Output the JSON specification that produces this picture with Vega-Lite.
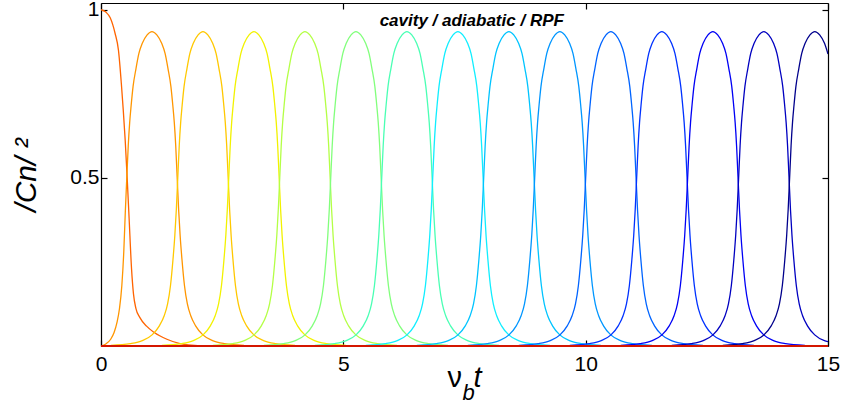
{
"$schema":"https://vega.github.io/schema/vega-lite/v6.json",
"width":727,"height":343,
"autosize":{"type":"none"},
"padding":{"left":101,"top":3,"right":17,"bottom":59},
"background":"white",
"config":{"view":{"stroke":null},"axis":{"domainColor":"black","tickColor":"black","labelColor":"black","labelFont":"Liberation Sans","labelFontSize":21,"tickSize":-6,"domainWidth":1.2,"tickWidth":1.2,"grid":false,"labelFlush":false,"titleColor":"black"}},
"resolve":{"axis":{"x":"independent","y":"independent"}},
"layer":[
{"data":{"values":[
{"c":0,"t":0,"v":1.0},{"c":0,"t":0.1,"v":0.993},{"c":0,"t":0.19,"v":0.976},{"c":0,"t":0.29,"v":0.93},{"c":0,"t":0.36,"v":0.88},{"c":0,"t":0.42,"v":0.78},{"c":0,"t":0.46,"v":0.70},{"c":0,"t":0.5,"v":0.61},{"c":0,"t":0.54,"v":0.50},{"c":0,"t":0.58,"v":0.38},{"c":0,"t":0.63,"v":0.23},{"c":0,"t":0.67,"v":0.155},{"c":0,"t":0.72,"v":0.112},{"c":0,"t":0.8,"v":0.085},{"c":0,"t":0.94,"v":0.059},{"c":0,"t":1.1,"v":0.04},{"c":0,"t":1.36,"v":0.02},{"c":0,"t":1.63,"v":0.007},{"c":0,"t":2.0,"v":0.001},{"c":0,"t":2.5,"v":0},
{"c":1,"t":0,"v":0},{"c":1,"t":0.1,"v":0.006},{"c":1,"t":0.2,"v":0.02},{"c":1,"t":0.27,"v":0.04},{"c":1,"t":0.33,"v":0.07},{"c":1,"t":0.38,"v":0.11},{"c":1,"t":0.43,"v":0.18},{"c":1,"t":0.47,"v":0.28},{"c":1,"t":0.502,"v":0.40},{"c":1,"t":0.532,"v":0.5},{"c":1,"t":0.562,"v":0.595},{"c":1,"t":0.592,"v":0.665},{"c":1,"t":0.622,"v":0.715},{"c":1,"t":0.662,"v":0.772},{"c":1,"t":0.722,"v":0.825},{"c":1,"t":0.782,"v":0.87},{"c":1,"t":0.852,"v":0.9},{"c":1,"t":0.952,"v":0.925},{"c":1,"t":1.052,"v":0.935},{"c":1,"t":1.152,"v":0.925},{"c":1,"t":1.252,"v":0.9},{"c":1,"t":1.322,"v":0.87},{"c":1,"t":1.382,"v":0.825},{"c":1,"t":1.442,"v":0.772},{"c":1,"t":1.482,"v":0.715},{"c":1,"t":1.512,"v":0.665},{"c":1,"t":1.542,"v":0.595},{"c":1,"t":1.572,"v":0.5},{"c":1,"t":1.602,"v":0.405},{"c":1,"t":1.632,"v":0.33},{"c":1,"t":1.672,"v":0.255},{"c":1,"t":1.722,"v":0.18},{"c":1,"t":1.782,"v":0.125},{"c":1,"t":1.852,"v":0.09},{"c":1,"t":1.952,"v":0.06},{"c":1,"t":2.102,"v":0.033},{"c":1,"t":2.302,"v":0.016},{"c":1,"t":2.552,"v":0.007},{"c":1,"t":2.952,"v":0.002},
{"c":2,"t":0.204,"v":0.002},{"c":2,"t":0.604,"v":0.007},{"c":2,"t":0.854,"v":0.016},{"c":2,"t":1.054,"v":0.033},{"c":2,"t":1.204,"v":0.06},{"c":2,"t":1.304,"v":0.09},{"c":2,"t":1.374,"v":0.125},{"c":2,"t":1.434,"v":0.18},{"c":2,"t":1.484,"v":0.255},{"c":2,"t":1.524,"v":0.33},{"c":2,"t":1.554,"v":0.405},{"c":2,"t":1.584,"v":0.5},{"c":2,"t":1.614,"v":0.595},{"c":2,"t":1.644,"v":0.665},{"c":2,"t":1.674,"v":0.715},{"c":2,"t":1.714,"v":0.772},{"c":2,"t":1.774,"v":0.825},{"c":2,"t":1.834,"v":0.87},{"c":2,"t":1.904,"v":0.9},{"c":2,"t":2.004,"v":0.925},{"c":2,"t":2.104,"v":0.935},{"c":2,"t":2.204,"v":0.925},{"c":2,"t":2.304,"v":0.9},{"c":2,"t":2.374,"v":0.87},{"c":2,"t":2.434,"v":0.825},{"c":2,"t":2.494,"v":0.772},{"c":2,"t":2.534,"v":0.715},{"c":2,"t":2.564,"v":0.665},{"c":2,"t":2.594,"v":0.595},{"c":2,"t":2.624,"v":0.5},{"c":2,"t":2.654,"v":0.405},{"c":2,"t":2.684,"v":0.33},{"c":2,"t":2.724,"v":0.255},{"c":2,"t":2.774,"v":0.18},{"c":2,"t":2.834,"v":0.125},{"c":2,"t":2.904,"v":0.09},{"c":2,"t":3.004,"v":0.06},{"c":2,"t":3.154,"v":0.033},{"c":2,"t":3.354,"v":0.016},{"c":2,"t":3.604,"v":0.007},{"c":2,"t":4.004,"v":0.002},
{"c":3,"t":1.256,"v":0.002},{"c":3,"t":1.656,"v":0.007},{"c":3,"t":1.906,"v":0.016},{"c":3,"t":2.106,"v":0.033},{"c":3,"t":2.256,"v":0.06},{"c":3,"t":2.356,"v":0.09},{"c":3,"t":2.426,"v":0.125},{"c":3,"t":2.486,"v":0.18},{"c":3,"t":2.536,"v":0.255},{"c":3,"t":2.576,"v":0.33},{"c":3,"t":2.606,"v":0.405},{"c":3,"t":2.636,"v":0.5},{"c":3,"t":2.666,"v":0.595},{"c":3,"t":2.696,"v":0.665},{"c":3,"t":2.726,"v":0.715},{"c":3,"t":2.766,"v":0.772},{"c":3,"t":2.826,"v":0.825},{"c":3,"t":2.886,"v":0.87},{"c":3,"t":2.956,"v":0.9},{"c":3,"t":3.056,"v":0.925},{"c":3,"t":3.156,"v":0.935},{"c":3,"t":3.256,"v":0.925},{"c":3,"t":3.356,"v":0.9},{"c":3,"t":3.426,"v":0.87},{"c":3,"t":3.486,"v":0.825},{"c":3,"t":3.546,"v":0.772},{"c":3,"t":3.586,"v":0.715},{"c":3,"t":3.616,"v":0.665},{"c":3,"t":3.646,"v":0.595},{"c":3,"t":3.676,"v":0.5},{"c":3,"t":3.706,"v":0.405},{"c":3,"t":3.736,"v":0.33},{"c":3,"t":3.776,"v":0.255},{"c":3,"t":3.826,"v":0.18},{"c":3,"t":3.886,"v":0.125},{"c":3,"t":3.956,"v":0.09},{"c":3,"t":4.056,"v":0.06},{"c":3,"t":4.206,"v":0.033},{"c":3,"t":4.406,"v":0.016},{"c":3,"t":4.656,"v":0.007},{"c":3,"t":5.056,"v":0.002},
{"c":4,"t":2.308,"v":0.002},{"c":4,"t":2.708,"v":0.007},{"c":4,"t":2.958,"v":0.016},{"c":4,"t":3.158,"v":0.033},{"c":4,"t":3.308,"v":0.06},{"c":4,"t":3.408,"v":0.09},{"c":4,"t":3.478,"v":0.125},{"c":4,"t":3.538,"v":0.18},{"c":4,"t":3.588,"v":0.255},{"c":4,"t":3.628,"v":0.33},{"c":4,"t":3.658,"v":0.405},{"c":4,"t":3.688,"v":0.5},{"c":4,"t":3.718,"v":0.595},{"c":4,"t":3.748,"v":0.665},{"c":4,"t":3.778,"v":0.715},{"c":4,"t":3.818,"v":0.772},{"c":4,"t":3.878,"v":0.825},{"c":4,"t":3.938,"v":0.87},{"c":4,"t":4.008,"v":0.9},{"c":4,"t":4.108,"v":0.925},{"c":4,"t":4.208,"v":0.935},{"c":4,"t":4.308,"v":0.925},{"c":4,"t":4.408,"v":0.9},{"c":4,"t":4.478,"v":0.87},{"c":4,"t":4.538,"v":0.825},{"c":4,"t":4.598,"v":0.772},{"c":4,"t":4.638,"v":0.715},{"c":4,"t":4.668,"v":0.665},{"c":4,"t":4.698,"v":0.595},{"c":4,"t":4.728,"v":0.5},{"c":4,"t":4.758,"v":0.405},{"c":4,"t":4.788,"v":0.33},{"c":4,"t":4.828,"v":0.255},{"c":4,"t":4.878,"v":0.18},{"c":4,"t":4.938,"v":0.125},{"c":4,"t":5.008,"v":0.09},{"c":4,"t":5.108,"v":0.06},{"c":4,"t":5.258,"v":0.033},{"c":4,"t":5.458,"v":0.016},{"c":4,"t":5.708,"v":0.007},{"c":4,"t":6.108,"v":0.002},
{"c":5,"t":3.36,"v":0.002},{"c":5,"t":3.76,"v":0.007},{"c":5,"t":4.01,"v":0.016},{"c":5,"t":4.21,"v":0.033},{"c":5,"t":4.36,"v":0.06},{"c":5,"t":4.46,"v":0.09},{"c":5,"t":4.53,"v":0.125},{"c":5,"t":4.59,"v":0.18},{"c":5,"t":4.64,"v":0.255},{"c":5,"t":4.68,"v":0.33},{"c":5,"t":4.71,"v":0.405},{"c":5,"t":4.74,"v":0.5},{"c":5,"t":4.77,"v":0.595},{"c":5,"t":4.8,"v":0.665},{"c":5,"t":4.83,"v":0.715},{"c":5,"t":4.87,"v":0.772},{"c":5,"t":4.93,"v":0.825},{"c":5,"t":4.99,"v":0.87},{"c":5,"t":5.06,"v":0.9},{"c":5,"t":5.16,"v":0.925},{"c":5,"t":5.26,"v":0.935},{"c":5,"t":5.36,"v":0.925},{"c":5,"t":5.46,"v":0.9},{"c":5,"t":5.53,"v":0.87},{"c":5,"t":5.59,"v":0.825},{"c":5,"t":5.65,"v":0.772},{"c":5,"t":5.69,"v":0.715},{"c":5,"t":5.72,"v":0.665},{"c":5,"t":5.75,"v":0.595},{"c":5,"t":5.78,"v":0.5},{"c":5,"t":5.81,"v":0.405},{"c":5,"t":5.84,"v":0.33},{"c":5,"t":5.88,"v":0.255},{"c":5,"t":5.93,"v":0.18},{"c":5,"t":5.99,"v":0.125},{"c":5,"t":6.06,"v":0.09},{"c":5,"t":6.16,"v":0.06},{"c":5,"t":6.31,"v":0.033},{"c":5,"t":6.51,"v":0.016},{"c":5,"t":6.76,"v":0.007},{"c":5,"t":7.16,"v":0.002},
{"c":6,"t":4.412,"v":0.002},{"c":6,"t":4.812,"v":0.007},{"c":6,"t":5.062,"v":0.016},{"c":6,"t":5.262,"v":0.033},{"c":6,"t":5.412,"v":0.06},{"c":6,"t":5.512,"v":0.09},{"c":6,"t":5.582,"v":0.125},{"c":6,"t":5.642,"v":0.18},{"c":6,"t":5.692,"v":0.255},{"c":6,"t":5.732,"v":0.33},{"c":6,"t":5.762,"v":0.405},{"c":6,"t":5.792,"v":0.5},{"c":6,"t":5.822,"v":0.595},{"c":6,"t":5.852,"v":0.665},{"c":6,"t":5.882,"v":0.715},{"c":6,"t":5.922,"v":0.772},{"c":6,"t":5.982,"v":0.825},{"c":6,"t":6.042,"v":0.87},{"c":6,"t":6.112,"v":0.9},{"c":6,"t":6.212,"v":0.925},{"c":6,"t":6.312,"v":0.935},{"c":6,"t":6.412,"v":0.925},{"c":6,"t":6.512,"v":0.9},{"c":6,"t":6.582,"v":0.87},{"c":6,"t":6.642,"v":0.825},{"c":6,"t":6.702,"v":0.772},{"c":6,"t":6.742,"v":0.715},{"c":6,"t":6.772,"v":0.665},{"c":6,"t":6.802,"v":0.595},{"c":6,"t":6.832,"v":0.5},{"c":6,"t":6.862,"v":0.405},{"c":6,"t":6.892,"v":0.33},{"c":6,"t":6.932,"v":0.255},{"c":6,"t":6.982,"v":0.18},{"c":6,"t":7.042,"v":0.125},{"c":6,"t":7.112,"v":0.09},{"c":6,"t":7.212,"v":0.06},{"c":6,"t":7.362,"v":0.033},{"c":6,"t":7.562,"v":0.016},{"c":6,"t":7.812,"v":0.007},{"c":6,"t":8.212,"v":0.002},
{"c":7,"t":5.464,"v":0.002},{"c":7,"t":5.864,"v":0.007},{"c":7,"t":6.114,"v":0.016},{"c":7,"t":6.314,"v":0.033},{"c":7,"t":6.464,"v":0.06},{"c":7,"t":6.564,"v":0.09},{"c":7,"t":6.634,"v":0.125},{"c":7,"t":6.694,"v":0.18},{"c":7,"t":6.744,"v":0.255},{"c":7,"t":6.784,"v":0.33},{"c":7,"t":6.814,"v":0.405},{"c":7,"t":6.844,"v":0.5},{"c":7,"t":6.874,"v":0.595},{"c":7,"t":6.904,"v":0.665},{"c":7,"t":6.934,"v":0.715},{"c":7,"t":6.974,"v":0.772},{"c":7,"t":7.034,"v":0.825},{"c":7,"t":7.094,"v":0.87},{"c":7,"t":7.164,"v":0.9},{"c":7,"t":7.264,"v":0.925},{"c":7,"t":7.364,"v":0.935},{"c":7,"t":7.464,"v":0.925},{"c":7,"t":7.564,"v":0.9},{"c":7,"t":7.634,"v":0.87},{"c":7,"t":7.694,"v":0.825},{"c":7,"t":7.754,"v":0.772},{"c":7,"t":7.794,"v":0.715},{"c":7,"t":7.824,"v":0.665},{"c":7,"t":7.854,"v":0.595},{"c":7,"t":7.884,"v":0.5},{"c":7,"t":7.914,"v":0.405},{"c":7,"t":7.944,"v":0.33},{"c":7,"t":7.984,"v":0.255},{"c":7,"t":8.034,"v":0.18},{"c":7,"t":8.094,"v":0.125},{"c":7,"t":8.164,"v":0.09},{"c":7,"t":8.264,"v":0.06},{"c":7,"t":8.414,"v":0.033},{"c":7,"t":8.614,"v":0.016},{"c":7,"t":8.864,"v":0.007},{"c":7,"t":9.264,"v":0.002},
{"c":8,"t":6.516,"v":0.002},{"c":8,"t":6.916,"v":0.007},{"c":8,"t":7.166,"v":0.016},{"c":8,"t":7.366,"v":0.033},{"c":8,"t":7.516,"v":0.06},{"c":8,"t":7.616,"v":0.09},{"c":8,"t":7.686,"v":0.125},{"c":8,"t":7.746,"v":0.18},{"c":8,"t":7.796,"v":0.255},{"c":8,"t":7.836,"v":0.33},{"c":8,"t":7.866,"v":0.405},{"c":8,"t":7.896,"v":0.5},{"c":8,"t":7.926,"v":0.595},{"c":8,"t":7.956,"v":0.665},{"c":8,"t":7.986,"v":0.715},{"c":8,"t":8.026,"v":0.772},{"c":8,"t":8.086,"v":0.825},{"c":8,"t":8.146,"v":0.87},{"c":8,"t":8.216,"v":0.9},{"c":8,"t":8.316,"v":0.925},{"c":8,"t":8.416,"v":0.935},{"c":8,"t":8.516,"v":0.925},{"c":8,"t":8.616,"v":0.9},{"c":8,"t":8.686,"v":0.87},{"c":8,"t":8.746,"v":0.825},{"c":8,"t":8.806,"v":0.772},{"c":8,"t":8.846,"v":0.715},{"c":8,"t":8.876,"v":0.665},{"c":8,"t":8.906,"v":0.595},{"c":8,"t":8.936,"v":0.5},{"c":8,"t":8.966,"v":0.405},{"c":8,"t":8.996,"v":0.33},{"c":8,"t":9.036,"v":0.255},{"c":8,"t":9.086,"v":0.18},{"c":8,"t":9.146,"v":0.125},{"c":8,"t":9.216,"v":0.09},{"c":8,"t":9.316,"v":0.06},{"c":8,"t":9.466,"v":0.033},{"c":8,"t":9.666,"v":0.016},{"c":8,"t":9.916,"v":0.007},{"c":8,"t":10.316,"v":0.002},
{"c":9,"t":7.568,"v":0.002},{"c":9,"t":7.968,"v":0.007},{"c":9,"t":8.218,"v":0.016},{"c":9,"t":8.418,"v":0.033},{"c":9,"t":8.568,"v":0.06},{"c":9,"t":8.668,"v":0.09},{"c":9,"t":8.738,"v":0.125},{"c":9,"t":8.798,"v":0.18},{"c":9,"t":8.848,"v":0.255},{"c":9,"t":8.888,"v":0.33},{"c":9,"t":8.918,"v":0.405},{"c":9,"t":8.948,"v":0.5},{"c":9,"t":8.978,"v":0.595},{"c":9,"t":9.008,"v":0.665},{"c":9,"t":9.038,"v":0.715},{"c":9,"t":9.078,"v":0.772},{"c":9,"t":9.138,"v":0.825},{"c":9,"t":9.198,"v":0.87},{"c":9,"t":9.268,"v":0.9},{"c":9,"t":9.368,"v":0.925},{"c":9,"t":9.468,"v":0.935},{"c":9,"t":9.568,"v":0.925},{"c":9,"t":9.668,"v":0.9},{"c":9,"t":9.738,"v":0.87},{"c":9,"t":9.798,"v":0.825},{"c":9,"t":9.858,"v":0.772},{"c":9,"t":9.898,"v":0.715},{"c":9,"t":9.928,"v":0.665},{"c":9,"t":9.958,"v":0.595},{"c":9,"t":9.988,"v":0.5},{"c":9,"t":10.018,"v":0.405},{"c":9,"t":10.048,"v":0.33},{"c":9,"t":10.088,"v":0.255},{"c":9,"t":10.138,"v":0.18},{"c":9,"t":10.198,"v":0.125},{"c":9,"t":10.268,"v":0.09},{"c":9,"t":10.368,"v":0.06},{"c":9,"t":10.518,"v":0.033},{"c":9,"t":10.718,"v":0.016},{"c":9,"t":10.968,"v":0.007},{"c":9,"t":11.368,"v":0.002},
{"c":10,"t":8.62,"v":0.002},{"c":10,"t":9.02,"v":0.007},{"c":10,"t":9.27,"v":0.016},{"c":10,"t":9.47,"v":0.033},{"c":10,"t":9.62,"v":0.06},{"c":10,"t":9.72,"v":0.09},{"c":10,"t":9.79,"v":0.125},{"c":10,"t":9.85,"v":0.18},{"c":10,"t":9.9,"v":0.255},{"c":10,"t":9.94,"v":0.33},{"c":10,"t":9.97,"v":0.405},{"c":10,"t":10.0,"v":0.5},{"c":10,"t":10.03,"v":0.595},{"c":10,"t":10.06,"v":0.665},{"c":10,"t":10.09,"v":0.715},{"c":10,"t":10.13,"v":0.772},{"c":10,"t":10.19,"v":0.825},{"c":10,"t":10.25,"v":0.87},{"c":10,"t":10.32,"v":0.9},{"c":10,"t":10.42,"v":0.925},{"c":10,"t":10.52,"v":0.935},{"c":10,"t":10.62,"v":0.925},{"c":10,"t":10.72,"v":0.9},{"c":10,"t":10.79,"v":0.87},{"c":10,"t":10.85,"v":0.825},{"c":10,"t":10.91,"v":0.772},{"c":10,"t":10.95,"v":0.715},{"c":10,"t":10.98,"v":0.665},{"c":10,"t":11.01,"v":0.595},{"c":10,"t":11.04,"v":0.5},{"c":10,"t":11.07,"v":0.405},{"c":10,"t":11.1,"v":0.33},{"c":10,"t":11.14,"v":0.255},{"c":10,"t":11.19,"v":0.18},{"c":10,"t":11.25,"v":0.125},{"c":10,"t":11.32,"v":0.09},{"c":10,"t":11.42,"v":0.06},{"c":10,"t":11.57,"v":0.033},{"c":10,"t":11.77,"v":0.016},{"c":10,"t":12.02,"v":0.007},{"c":10,"t":12.42,"v":0.002},
{"c":11,"t":9.672,"v":0.002},{"c":11,"t":10.072,"v":0.007},{"c":11,"t":10.322,"v":0.016},{"c":11,"t":10.522,"v":0.033},{"c":11,"t":10.672,"v":0.06},{"c":11,"t":10.772,"v":0.09},{"c":11,"t":10.842,"v":0.125},{"c":11,"t":10.902,"v":0.18},{"c":11,"t":10.952,"v":0.255},{"c":11,"t":10.992,"v":0.33},{"c":11,"t":11.022,"v":0.405},{"c":11,"t":11.052,"v":0.5},{"c":11,"t":11.082,"v":0.595},{"c":11,"t":11.112,"v":0.665},{"c":11,"t":11.142,"v":0.715},{"c":11,"t":11.182,"v":0.772},{"c":11,"t":11.242,"v":0.825},{"c":11,"t":11.302,"v":0.87},{"c":11,"t":11.372,"v":0.9},{"c":11,"t":11.472,"v":0.925},{"c":11,"t":11.572,"v":0.935},{"c":11,"t":11.672,"v":0.925},{"c":11,"t":11.772,"v":0.9},{"c":11,"t":11.842,"v":0.87},{"c":11,"t":11.902,"v":0.825},{"c":11,"t":11.962,"v":0.772},{"c":11,"t":12.002,"v":0.715},{"c":11,"t":12.032,"v":0.665},{"c":11,"t":12.062,"v":0.595},{"c":11,"t":12.092,"v":0.5},{"c":11,"t":12.122,"v":0.405},{"c":11,"t":12.152,"v":0.33},{"c":11,"t":12.192,"v":0.255},{"c":11,"t":12.242,"v":0.18},{"c":11,"t":12.302,"v":0.125},{"c":11,"t":12.372,"v":0.09},{"c":11,"t":12.472,"v":0.06},{"c":11,"t":12.622,"v":0.033},{"c":11,"t":12.822,"v":0.016},{"c":11,"t":13.072,"v":0.007},{"c":11,"t":13.472,"v":0.002},
{"c":12,"t":10.724,"v":0.002},{"c":12,"t":11.124,"v":0.007},{"c":12,"t":11.374,"v":0.016},{"c":12,"t":11.574,"v":0.033},{"c":12,"t":11.724,"v":0.06},{"c":12,"t":11.824,"v":0.09},{"c":12,"t":11.894,"v":0.125},{"c":12,"t":11.954,"v":0.18},{"c":12,"t":12.004,"v":0.255},{"c":12,"t":12.044,"v":0.33},{"c":12,"t":12.074,"v":0.405},{"c":12,"t":12.104,"v":0.5},{"c":12,"t":12.134,"v":0.595},{"c":12,"t":12.164,"v":0.665},{"c":12,"t":12.194,"v":0.715},{"c":12,"t":12.234,"v":0.772},{"c":12,"t":12.294,"v":0.825},{"c":12,"t":12.354,"v":0.87},{"c":12,"t":12.424,"v":0.9},{"c":12,"t":12.524,"v":0.925},{"c":12,"t":12.624,"v":0.935},{"c":12,"t":12.724,"v":0.925},{"c":12,"t":12.824,"v":0.9},{"c":12,"t":12.894,"v":0.87},{"c":12,"t":12.954,"v":0.825},{"c":12,"t":13.014,"v":0.772},{"c":12,"t":13.054,"v":0.715},{"c":12,"t":13.084,"v":0.665},{"c":12,"t":13.114,"v":0.595},{"c":12,"t":13.144,"v":0.5},{"c":12,"t":13.174,"v":0.405},{"c":12,"t":13.204,"v":0.33},{"c":12,"t":13.244,"v":0.255},{"c":12,"t":13.294,"v":0.18},{"c":12,"t":13.354,"v":0.125},{"c":12,"t":13.424,"v":0.09},{"c":12,"t":13.524,"v":0.06},{"c":12,"t":13.674,"v":0.033},{"c":12,"t":13.874,"v":0.016},{"c":12,"t":14.124,"v":0.007},{"c":12,"t":14.524,"v":0.002},
{"c":13,"t":11.776,"v":0.002},{"c":13,"t":12.176,"v":0.007},{"c":13,"t":12.426,"v":0.016},{"c":13,"t":12.626,"v":0.033},{"c":13,"t":12.776,"v":0.06},{"c":13,"t":12.876,"v":0.09},{"c":13,"t":12.946,"v":0.125},{"c":13,"t":13.006,"v":0.18},{"c":13,"t":13.056,"v":0.255},{"c":13,"t":13.096,"v":0.33},{"c":13,"t":13.126,"v":0.405},{"c":13,"t":13.156,"v":0.5},{"c":13,"t":13.186,"v":0.595},{"c":13,"t":13.216,"v":0.665},{"c":13,"t":13.246,"v":0.715},{"c":13,"t":13.286,"v":0.772},{"c":13,"t":13.346,"v":0.825},{"c":13,"t":13.406,"v":0.87},{"c":13,"t":13.476,"v":0.9},{"c":13,"t":13.576,"v":0.925},{"c":13,"t":13.676,"v":0.935},{"c":13,"t":13.776,"v":0.925},{"c":13,"t":13.876,"v":0.9},{"c":13,"t":13.946,"v":0.87},{"c":13,"t":14.006,"v":0.825},{"c":13,"t":14.066,"v":0.772},{"c":13,"t":14.106,"v":0.715},{"c":13,"t":14.136,"v":0.665},{"c":13,"t":14.166,"v":0.595},{"c":13,"t":14.196,"v":0.5},{"c":13,"t":14.226,"v":0.405},{"c":13,"t":14.256,"v":0.33},{"c":13,"t":14.296,"v":0.255},{"c":13,"t":14.346,"v":0.18},{"c":13,"t":14.406,"v":0.125},{"c":13,"t":14.476,"v":0.09},{"c":13,"t":14.576,"v":0.06},{"c":13,"t":14.726,"v":0.033},{"c":13,"t":14.926,"v":0.016},{"c":13,"t":15.0,"v":0.013},
{"c":14,"t":12.828,"v":0.002},{"c":14,"t":13.228,"v":0.007},{"c":14,"t":13.478,"v":0.016},{"c":14,"t":13.678,"v":0.033},{"c":14,"t":13.828,"v":0.06},{"c":14,"t":13.928,"v":0.09},{"c":14,"t":13.998,"v":0.125},{"c":14,"t":14.058,"v":0.18},{"c":14,"t":14.108,"v":0.255},{"c":14,"t":14.148,"v":0.33},{"c":14,"t":14.178,"v":0.405},{"c":14,"t":14.208,"v":0.5},{"c":14,"t":14.238,"v":0.595},{"c":14,"t":14.268,"v":0.665},{"c":14,"t":14.298,"v":0.715},{"c":14,"t":14.338,"v":0.772},{"c":14,"t":14.398,"v":0.825},{"c":14,"t":14.458,"v":0.87},{"c":14,"t":14.528,"v":0.9},{"c":14,"t":14.628,"v":0.925},{"c":14,"t":14.728,"v":0.935},{"c":14,"t":14.828,"v":0.925},{"c":14,"t":14.928,"v":0.9},{"c":14,"t":15.0,"v":0.868}
]},
"mark":{"type":"line","interpolate":"monotone","strokeWidth":1.3,"clip":true},
"encoding":{
"x":{"field":"t","type":"quantitative","scale":{"domain":[0,15],"nice":false,"zero":false},"axis":{"orient":"bottom","values":[0,5,10,15],"title":null,"labelPadding":13}},
"y":{"field":"v","type":"quantitative","scale":{"domain":[0,1.02],"nice":false},"axis":{"orient":"left","values":[0.5,1],"format":".1~f","labelPadding":8,"title":"/Cn/ ²","titleFont":"Liberation Sans","titleFontSize":30,"titleFontStyle":"italic","titleFontWeight":"normal","titleX":-66,"titleBaseline":"alphabetic"}},
"color":{"field":"c","type":"nominal","legend":null,"scale":{"domain":[0,1,2,3,4,5,6,7,8,9,10,11,12,13,14],"range":["#ff6400","#ff9600","#ffc800","#f2f200","#b4ff46","#82ff7c","#4affb4","#10eeff","#00c4ff","#0096ff","#0064ff","#0032ff","#0000f5","#0000c0","#00008c"]}}
}},
{"data":{"values":[{"t":0,"v":0},{"t":15,"v":0}]},
"mark":{"type":"line","color":"#d41600","strokeWidth":2.2},
"encoding":{
"x":{"field":"t","type":"quantitative","axis":{"orient":"top","values":[0,5,10,15],"labels":false,"title":null}},
"y":{"field":"v","type":"quantitative","axis":{"orient":"right","values":[0.5,1],"labels":false,"title":null}}
}},
{"data":{"values":[{"label":"cavity / adiabatic / RPF"}]},
"mark":{"type":"text","font":"Liberation Sans","fontSize":17,"fontWeight":"bold","fontStyle":"italic","align":"center","baseline":"alphabetic","color":"black"},
"encoding":{"text":{"field":"label"},"x":{"datum":7.65,"type":"quantitative","axis":null},"y":{"datum":0.951,"type":"quantitative","axis":null}}},
{"data":{"values":[{"label":"ν"}]},
"mark":{"type":"text","font":"Liberation Sans","fontSize":29,"align":"left","baseline":"alphabetic","dx":-17,"dy":40.5,"color":"black"},
"encoding":{"text":{"field":"label"},"x":{"datum":7.5,"type":"quantitative","axis":null},"y":{"datum":0,"type":"quantitative","axis":null}}},
{"data":{"values":[{"label":"b"}]},
"mark":{"type":"text","font":"Liberation Sans","fontSize":22,"fontStyle":"italic","align":"left","baseline":"alphabetic","dx":-2,"dy":53.5,"color":"black"},
"encoding":{"text":{"field":"label"},"x":{"datum":7.5,"type":"quantitative","axis":null},"y":{"datum":0,"type":"quantitative","axis":null}}},
{"data":{"values":[{"label":"t"}]},
"mark":{"type":"text","font":"Liberation Sans","fontSize":29,"fontStyle":"italic","align":"left","baseline":"alphabetic","dx":9,"dy":40.5,"color":"black"},
"encoding":{"text":{"field":"label"},"x":{"datum":7.5,"type":"quantitative","axis":null},"y":{"datum":0,"type":"quantitative","axis":null}}}
]
}
